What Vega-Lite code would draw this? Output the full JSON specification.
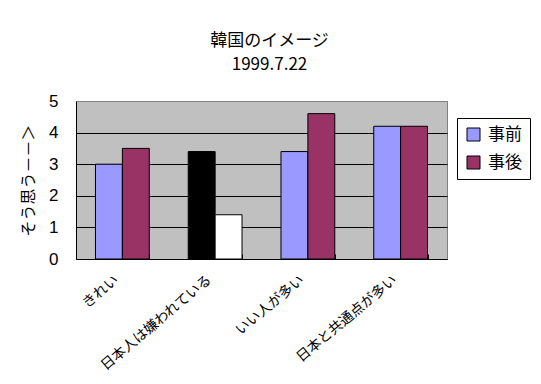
{
  "$schema": "https://vega.github.io/schema/vega-lite/v6.json",
  "width": 371,
  "height": 158,
  "padding": {"left": 20, "top": 32, "right": 5, "bottom": 5},
  "background": "white",
  "title": {
    "text": ["韓国のイメージ", "1999.7.22"],
    "font": "Noto Sans CJK JP",
    "fontSize": 17,
    "fontWeight": "normal",
    "color": "black",
    "lineHeight": 24,
    "anchor": "middle",
    "dx": 8,
    "offset": 18
  },
  "data": {
    "values": [
      {"item": "きれい", "series": "事前", "value": 3.0},
      {"item": "きれい", "series": "事後", "value": 3.5},
      {"item": "日本人は嫌われている", "series": "事前", "value": 3.4},
      {"item": "日本人は嫌われている", "series": "事後", "value": 1.4},
      {"item": "いい人が多い", "series": "事前", "value": 3.4},
      {"item": "いい人が多い", "series": "事後", "value": 4.6},
      {"item": "日本と共通点が多い", "series": "事前", "value": 4.2},
      {"item": "日本と共通点が多い", "series": "事後", "value": 4.2}
    ]
  },
  "mark": {"type": "bar", "stroke": "black", "strokeWidth": 1},
  "encoding": {
    "x": {
      "field": "item",
      "type": "nominal",
      "sort": null,
      "scale": {"paddingInner": 0.42, "paddingOuter": 0.21},
      "axis": {
        "title": null,
        "labelAngle": -40,
        "labelAlign": "right",
        "labelBaseline": "middle",
        "labelFont": "Noto Sans CJK JP",
        "labelFontSize": 14,
        "labelColor": "black",
        "labelPadding": 24,
        "domainColor": "black",
        "tickColor": "black",
        "tickBand": "extent",
        "tickSize": -5,
        "labelOffset": -6
      }
    },
    "xOffset": {"field": "series", "sort": ["事前", "事後"]},
    "y": {
      "field": "value",
      "type": "quantitative",
      "scale": {"domain": [0, 5]},
      "axis": {
        "title": "そう思う－－＞",
        "titleFont": "Noto Sans CJK JP",
        "titleFontSize": 16,
        "titleFontWeight": "normal",
        "titleColor": "black",
        "titlePadding": 12,
        "values": [0, 1, 2, 3, 4, 5],
        "labelFont": "Liberation Sans",
        "labelFontSize": 17,
        "labelColor": "black",
        "labelPadding": 18,
        "ticks": false,
        "domainColor": "black",
        "gridColor": {"condition": {"test": "datum.value == 5", "value": "#808080"}, "value": "black"},
        "gridOpacity": 1
      }
    },
    "color": {
      "condition": [
        {"test": "datum.item == '日本人は嫌われている' && datum.series == '事前'", "value": "black"},
        {"test": "datum.item == '日本人は嫌われている' && datum.series == '事後'", "value": "white"}
      ],
      "field": "series",
      "type": "nominal",
      "scale": {"domain": ["事前", "事後"], "range": ["#9999FF", "#993366"]},
      "legend": {
        "title": null,
        "orient": "none",
        "legendX": 381,
        "legendY": 17,
        "strokeColor": "black",
        "fillColor": "white",
        "padding": 8,
        "symbolType": "square",
        "symbolSize": 169,
        "symbolStrokeColor": "black",
        "symbolStrokeWidth": 1,
        "symbolOpacity": 1,
        "labelFont": "Noto Sans CJK JP",
        "labelFontSize": 17,
        "labelColor": "black",
        "rowPadding": 10,
        "labelOffset": 6
      }
    }
  },
  "config": {
    "view": {"fill": "#C0C0C0", "stroke": "#808080"},
    "axis": {"gridWidth": 1}
  }
}
